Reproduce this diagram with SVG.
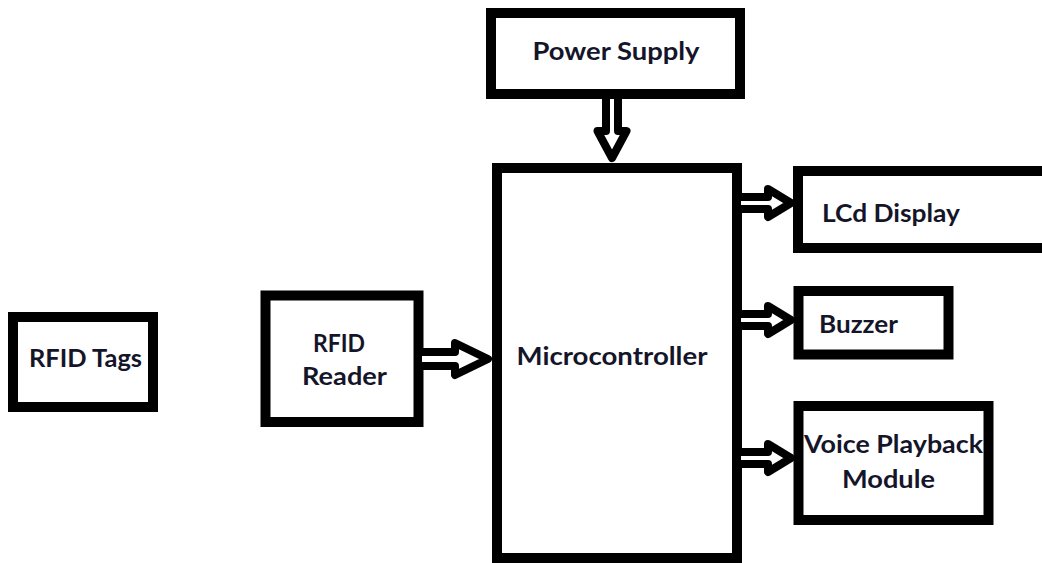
<svg xmlns="http://www.w3.org/2000/svg" width="1042" height="563" viewBox="0 0 1042 563">
<style>
.box{fill:#fff;stroke:#000;stroke-width:10}
.lbl{font-family:Lato,"Liberation Sans",sans-serif;font-weight:bold;font-size:25px;fill:#15152a}
.arr{fill:#fff;stroke:#000;stroke-width:8;stroke-linejoin:round}
</style>
<rect width="1042" height="563" fill="#fff"/>
<g id="power-supply">
<rect class="box" x="491" y="13" width="249" height="81"/>
<text class="lbl" x="616" y="60" text-anchor="middle" textLength="167" lengthAdjust="spacingAndGlyphs">Power Supply</text>
</g>
<g id="microcontroller">
<rect class="box" x="497" y="168" width="240" height="390"/>
<text class="lbl" x="612" y="365" text-anchor="middle" textLength="191" lengthAdjust="spacingAndGlyphs">Microcontroller</text>
</g>
<g id="lcd-display">
<rect class="box" x="798" y="171" width="260" height="77"/>
<text class="lbl" x="822" y="222" textLength="138" lengthAdjust="spacingAndGlyphs">LCd Display</text>
</g>
<g id="buzzer">
<rect class="box" x="798.5" y="291" width="150" height="63.5"/>
<text class="lbl" x="819" y="333" textLength="79" lengthAdjust="spacingAndGlyphs">Buzzer</text>
</g>
<g id="voice-playback">
<rect class="box" x="798.5" y="406" width="190" height="114"/>
<text class="lbl" x="893.5" y="453" text-anchor="middle" textLength="179" lengthAdjust="spacingAndGlyphs">Voice Playback</text>
<text class="lbl" x="888.5" y="488" text-anchor="middle" textLength="93" lengthAdjust="spacingAndGlyphs">Module</text>
</g>
<g id="rfid-tags">
<rect class="box" x="13" y="317" width="140" height="90"/>
<text class="lbl" x="85.5" y="367" text-anchor="middle" textLength="113" lengthAdjust="spacingAndGlyphs">RFID Tags</text>
</g>
<g id="rfid-reader">
<rect class="box" x="265.5" y="295.5" width="153" height="126.5"/>
<text class="lbl" x="339" y="352" text-anchor="middle" textLength="52" lengthAdjust="spacingAndGlyphs">RFID</text>
<text class="lbl" x="344.5" y="385" text-anchor="middle" textLength="85" lengthAdjust="spacingAndGlyphs">Reader</text>
</g>
<g id="connectors">
<path class="arr" d="M606,95 V131 H597.5 L612,158 L626.5,131 H618 V95 Z"/>
<path class="arr" d="M737,197 H768 V189 L791,203 L768,217 V209 H737 Z"/>
<path class="arr" d="M737,314 H768 V306 L791,320 L768,334 V326 H737 Z"/>
<path class="arr" d="M737,452 H768 V444 L791,458 L768,472 V464 H737 Z"/>
<path class="arr" d="M418,352 H455 V343 L488,359 L455,375 V366 H418 Z"/>
</g>
</svg>
